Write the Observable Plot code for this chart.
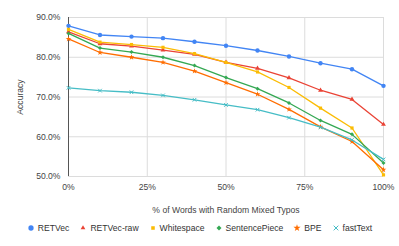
<!DOCTYPE html>
<html><head><meta charset="utf-8">
<script src="https://cdn.jsdelivr.net/npm/d3@7"></script>
<script src="https://cdn.jsdelivr.net/npm/@observablehq/plot@0.6"></script>
<style>
body{margin:0;background:#fff;font-family:"Liberation Sans",Arial,sans-serif;}
#legend{display:flex;justify-content:center;align-items:center;height:20px;font-size:8.6px;color:#333;width:399px;}
#legend .it{display:flex;align-items:center;margin:0 5px;}
#legend svg{margin-right:3px;}
</style></head>
<body><div id="chart"></div><div id="legend"></div>
<script>
const xs = [0,10,20,30,40,50,60,70,80,90,100];
const series = ["RETVec","RETVec-raw","Whitespace","SentencePiece","BPE","fastText"];
const colors = ["#4285F4","#EA4335","#FBBC04","#34A853","#FF6D01","#46BDC6"];
const symbols = ["circle","triangle","square","diamond2","star","times"];
const retvec =        [87.9,85.6,85.2,84.8,83.9,82.9,81.7,80.2,78.5,77.0,72.8];
const retvecRaw =     [86.4,83.4,82.8,81.8,80.7,78.7,77.2,74.8,71.7,69.4,63.1];
const whitespace =    [87.0,83.8,83.2,82.5,80.9,78.7,76.3,72.4,67.2,62.2,50.4];
const sentencePiece = [86.0,82.3,81.3,80.0,77.9,74.9,72.1,68.5,64.1,60.6,53.4];
const bpe =           [84.6,81.2,80.0,78.7,76.5,73.6,70.7,66.9,62.5,58.8,51.7];
const fastText =      [72.3,71.6,71.2,70.4,69.3,68.0,66.8,64.8,62.4,59.2,54.3];
const xTicks = [0,25,50,75,100];
const yTicks = [50,60,70,80,90];

const allVals = [retvec,retvecRaw,whitespace,sentencePiece,bpe,fastText];
const data = [];
series.forEach((s,i)=>xs.forEach((x,j)=>data.push({series:s,x,y:allVals[i][j]})));

const chart = Plot.plot({
  width:399, height:218,
  marginLeft:68, marginRight:16, marginTop:17, marginBottom:42,
  style:{fontFamily:"Liberation Sans, Arial, sans-serif", fontSize:"8.6px", color:"#444", background:"#fff"},
  x:{domain:[0,100]},
  y:{domain:[50,90]},
  color:{domain:series, range:colors},
  symbol:{domain:series, range:symbols},
  marks:[
    Plot.gridX(xTicks.slice(1), {stroke:"#dcdcdc", strokeOpacity:1}),
    Plot.gridY(yTicks, {stroke:"#dcdcdc", strokeOpacity:1}),
    Plot.ruleX([0], {stroke:"#555", strokeWidth:1}),
    Plot.axisX(xTicks, {tickSize:0, tickPadding:7, tickFormat:d=>d+"%", fill:"#444",
      label:"% of Words with Random Mixed Typos", labelAnchor:"center", labelArrow:"none", labelOffset:36}),
    Plot.axisY(yTicks, {tickSize:0, tickPadding:8, tickFormat:d=>d.toFixed(1)+"%", fill:"#444",
      label:"Accuracy", labelAnchor:"center", labelArrow:"none", labelOffset:52}),
    ...series.map((s,i)=>[
      Plot.line(data.filter(d=>d.series===s), {x:"x", y:"y", stroke:colors[i], strokeWidth:1.3}),
      Plot.dot(data.filter(d=>d.series===s), {x:"x", y:"y", symbol:"series", fill:s==="fastText"?"none":colors[i], stroke:s==="fastText"?colors[i]:"none", strokeWidth:1, r:s==="RETVec"?2.2:1.8})
    ]).flat()
  ]
});
document.getElementById("chart").appendChild(chart);

const leg = document.getElementById("legend");
series.forEach((s,i)=>{
  const it = document.createElement("div"); it.className="it";
  const sym = {circle:d3.symbolCircle,triangle:d3.symbolTriangle2,square:d3.symbolSquare2,diamond2:d3.symbolDiamond2,star:d3.symbolStar,times:d3.symbolTimes}[symbols[i]];
  const size = symbols[i]==="circle"?22:16;
  const p = d3.symbol(sym, size)();
  const filled = symbols[i]!=="times";
  it.innerHTML = `<svg width="8" height="8" viewBox="-4 -4 8 8"><path d="${p}" fill="${filled?colors[i]:"none"}" stroke="${filled?"none":colors[i]}" stroke-width="1"/></svg><span>${s}</span>`;
  leg.appendChild(it);
});
</script></body></html>
